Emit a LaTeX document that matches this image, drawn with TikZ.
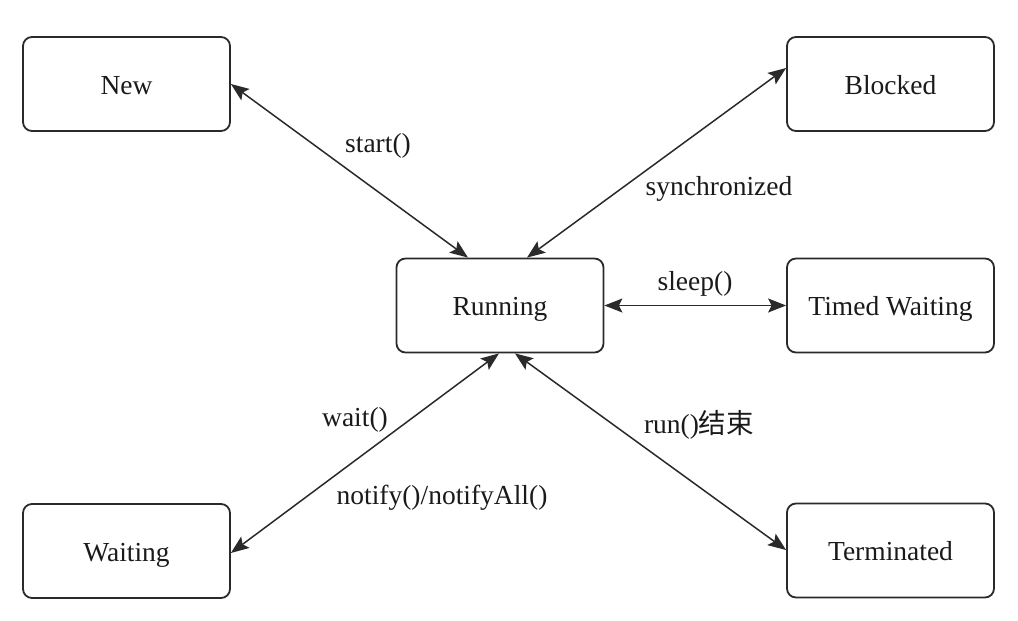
\documentclass[tikz,border=0pt]{standalone}
\usepackage{fontspec}
\setmainfont{Liberation Serif}
\newfontfamily\cjk{Noto Sans CJK SC}
\usetikzlibrary{arrows.meta}
\definecolor{linec}{HTML}{2A2A2A}
\definecolor{textc}{HTML}{1A1A1A}
\begin{document}
\begin{tikzpicture}[x=1pt,y=-1pt,
  state/.style={draw=linec,line width=1.8pt,rounded corners=9pt,minimum width=207pt,minimum height=94pt,inner sep=0pt,text height=22pt,text depth=2pt,text=textc,font=\fontsize{27.5}{30}\selectfont},
  lbl/.style={text=textc,inner sep=0pt,anchor=base,font=\fontsize{27.5}{30}\selectfont},
  conn/.style={draw=linec,line width=1.5pt,{Stealth[length=18pt,width=14pt,inset=3.5pt]}-{Stealth[length=18pt,width=14pt,inset=3.5pt]}}]
\useasboundingbox (0,0) rectangle (1018,621);
\node[state] (new) at (126.5,84) {New};
\node[state] (blocked) at (890.5,84) {Blocked};
\node[state] (running) at (500,305.5) {Running};
\node[state] (timed) at (890.5,305.5) {Timed Waiting};
\node[state] (waiting) at (126.5,551) {Waiting};
\node[state] (term) at (890.5,550.5) {Terminated};
\coordinate (rn1) at ([xshift=-32pt]running.north);
\coordinate (rn2) at ([xshift=27pt]running.north);
\coordinate (rs1) at ([xshift=-1pt]running.south);
\coordinate (rs2) at ([xshift=15pt]running.south);
\coordinate (bw) at ([yshift=16pt]blocked.west);
\coordinate (ww) at ([yshift=-2pt]waiting.east);
\coordinate (tw) at ([yshift=0.5pt]term.west);
\draw[conn] (new.east) -- (rn1);
\draw[conn] (rn2) -- (bw);
\draw[conn] (running.east) -- (timed.west);
\draw[conn] (rs1) -- (ww);
\draw[conn] (rs2) -- (tw);
\node[lbl] (l1) at (378,152) {start()};
\node[lbl] (l2) at (719,195) {synchronized};
\node[lbl] (l3) at (695,290) {sleep()};
\node[lbl] (l4) at (355,426) {wait()};
\node[lbl] (l5) at (699,433) {run()\cjk{结束}};
\node[lbl] (l6) at (442,504) {notify()/notifyAll()};
\end{tikzpicture}
\end{document}
